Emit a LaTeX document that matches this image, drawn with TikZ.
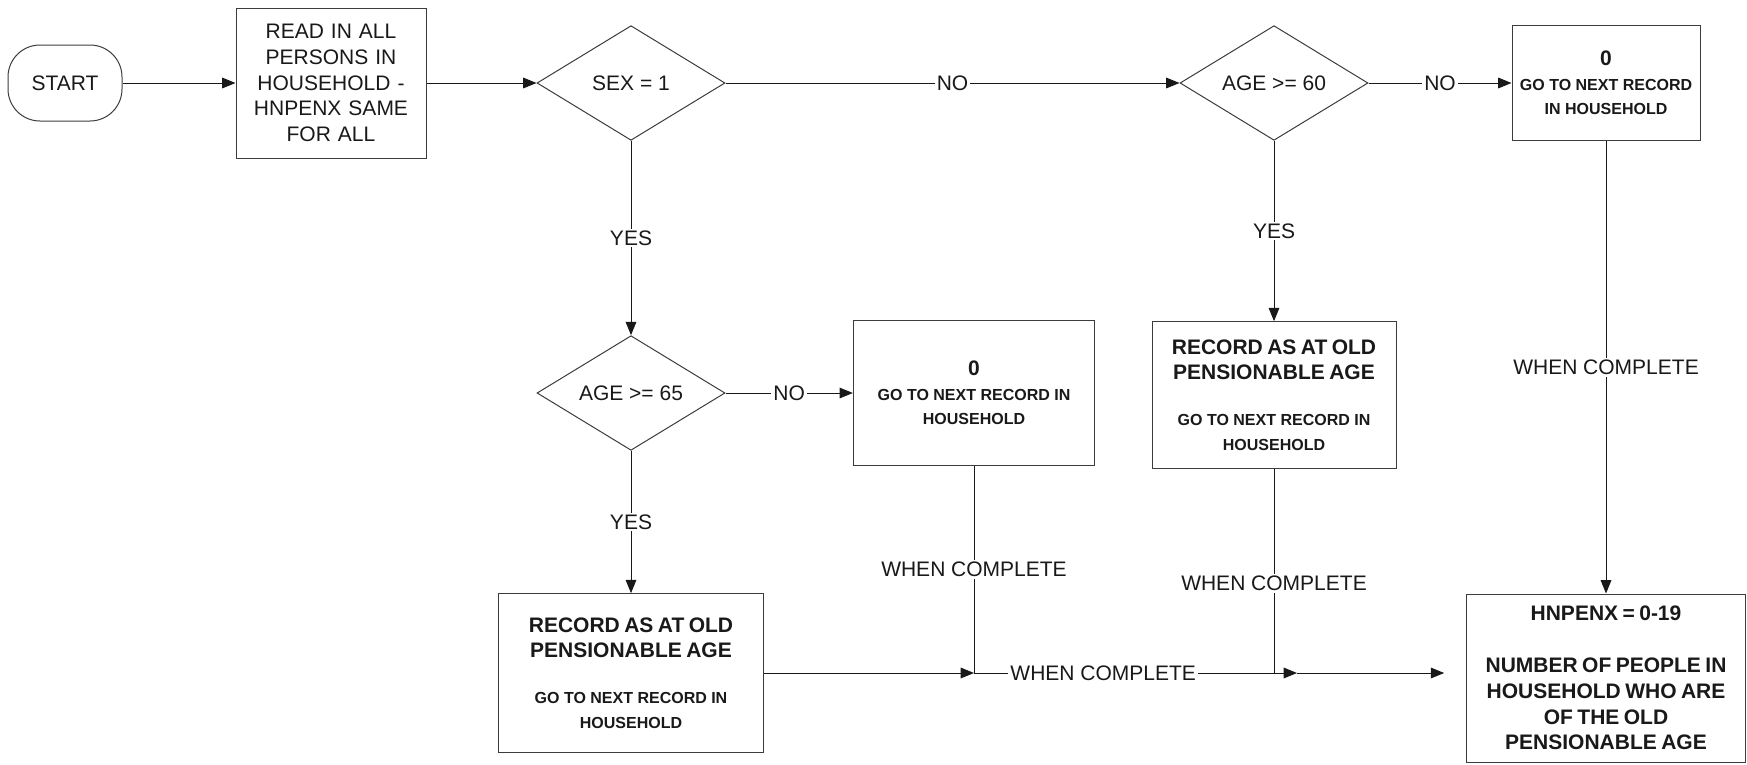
\documentclass[tikz,border=0pt]{standalone}
\usepackage{fontspec}
\setmainfont{Liberation Sans}
\usetikzlibrary{calc,arrows.meta,positioning,shapes.geometric}
\definecolor{flowInk}{RGB}{25,25,25}
\definecolor{boxEdge}{RGB}{60,60,60}
\newcommand{\regtext}{\fontsize{15.75}{19.2}\selectfont}
\newcommand{\bigbold}{\fontsize{15.75}{19.2}\selectfont\bfseries}
\newcommand{\smallbold}{\fontsize{12}{18.4}\selectfont\bfseries}

\begin{document}
\begin{tikzpicture}[x=0.75pt,y=-0.75pt,
  every node/.style={text=flowInk},
  proc/.style={draw=boxEdge,line width=0.75pt,fill=white,inner sep=4pt,align=center},
  decision/.style={draw=boxEdge,line width=0.75pt,diamond,aspect=1.64,inner sep=0pt,minimum width=141pt,minimum height=86pt,font=\regtext},
  terminal/.style={draw=boxEdge,line width=0.75pt,rounded corners=24pt,minimum width=85.5pt,minimum height=57pt,font=\regtext},
  flow/.style={draw=flowInk,line width=0.75pt},
  arr/.style={flow,-{Triangle[length=10pt,width=8pt]}},
  lbl/.style={fill=white,inner sep=1.5pt,font=\regtext}]
\useasboundingbox (0,0) rectangle (1747,764);
\node[terminal] (start) at (65,83) {START};
\node[proc,text width=134.5pt,minimum height=112.5pt,font=\regtext] (readin) at (331,83) {READ IN ALL\\PERSONS IN\\HOUSEHOLD -\\HNPENX SAME\\FOR ALL};
\node[decision] (sex) at (631,83) {SEX = 1};
\node[decision] (age60) at (1274,83) {AGE >= 60};
\node[proc,text width=133pt,minimum height=86pt] (zeroR) at (1606,83) {{\bigbold 0\par}{\smallbold GO TO NEXT RECORD\\IN HOUSEHOLD\par}};
\node[decision] (age65) at (631,393) {AGE >= 65};
\node[proc,text width=173pt,minimum height=109pt] (zeroM) at (974,393) {{\bigbold 0\par}{\smallbold GO TO NEXT RECORD IN\\HOUSEHOLD\par}};
\node[proc,text width=175pt,minimum height=110pt] (rec60) at (1274,395) {{\bigbold RECORD AS AT OLD\\PENSIONABLE AGE\par}\vspace{16pt}{\smallbold GO TO NEXT RECORD IN\\HOUSEHOLD\par}};
\node[proc,text width=191pt,minimum height=119pt] (rec65) at (631,673) {{\bigbold RECORD AS AT OLD\\PENSIONABLE AGE\par}\vspace{16pt}{\smallbold GO TO NEXT RECORD IN\\HOUSEHOLD\par}};
\node[proc,text width=201pt,minimum height=126pt] (result) at (1606,678) {{\bigbold HNPENX = 0-19\par\vspace{20pt}NUMBER OF PEOPLE IN\\HOUSEHOLD WHO ARE\\OF THE OLD\\PENSIONABLE AGE\par}};

\coordinate (j1) at (zeroM.south |- rec65.east);
\coordinate (j3) at (rec60.south |- rec65.east);
\coordinate (j2) at ($(j3)+(23,0)$);
\coordinate (j4) at ($(result.west |- rec65.east)+(-22,0)$);

\draw[arr] (start) -- (readin);
\draw[arr] (readin) -- (sex);
\draw[arr] (sex) -- node[lbl]{NO} (age60);
\draw[arr] (age60) -- node[lbl]{NO} (zeroR);
\draw[arr] (sex) -- node[lbl]{YES} (age65);
\draw[arr] (age65) -- node[lbl]{NO} (zeroM);
\draw[arr] (age65) -- node[lbl]{YES} (rec65);
\draw[arr] (age60) -- node[lbl]{YES} (rec60);
\draw[arr] (zeroR) -- node[lbl]{WHEN COMPLETE} (result);
\draw[arr] (rec65) -- (j1);
\draw[flow] (zeroM) -- node[lbl]{WHEN COMPLETE} (j1);
\draw[arr] (j1) -- node[lbl,pos=0.4]{WHEN COMPLETE} (j2);
\draw[flow] (rec60) -- node[lbl,pos=0.56]{WHEN COMPLETE} (j3);
\draw[arr] (j2) -- (j4);
\end{tikzpicture}
\end{document}
